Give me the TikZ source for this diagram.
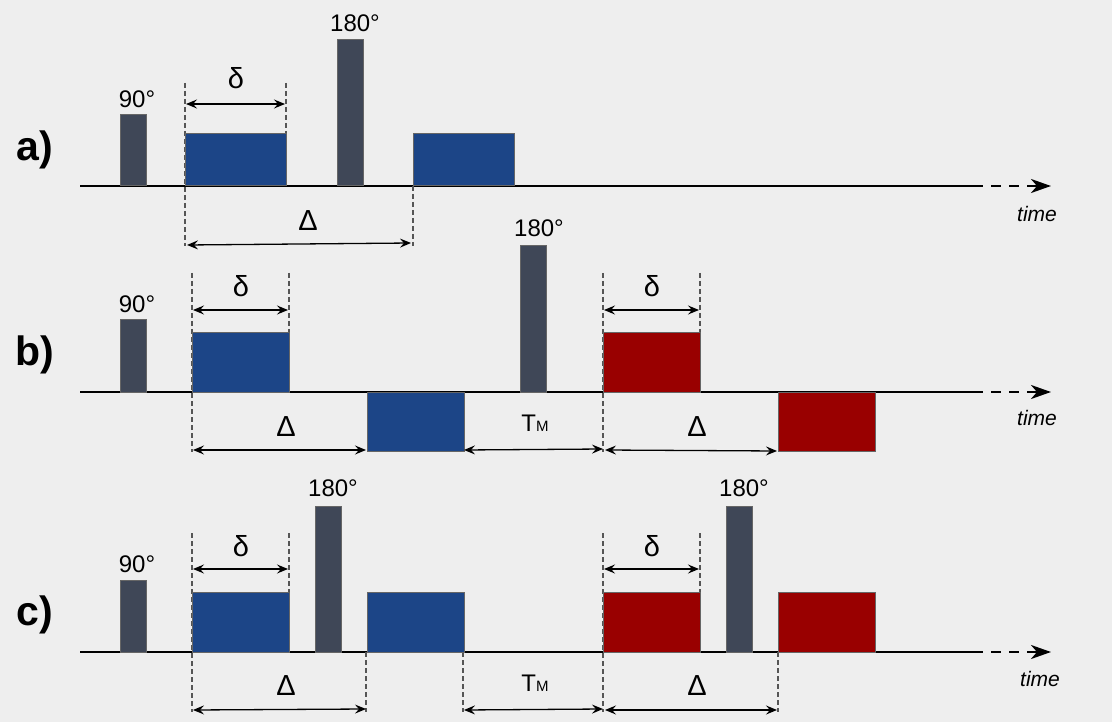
\documentclass[tikz,border=0pt]{standalone}
\usepackage{fontspec}
\setmainfont{Liberation Sans}
\usetikzlibrary{arrows.meta}
\definecolor{bgcol}{HTML}{EEEEEE}
\definecolor{pulsecol}{HTML}{3F4757}
\definecolor{bluecol}{HTML}{1C4587}
\definecolor{redcol}{HTML}{990000}
\definecolor{edgecol}{HTML}{666666}
\definecolor{guidecol}{HTML}{555555}
\tikzset{
  pulsebar/.style={draw=edgecol, fill=pulsecol, line width=1pt, inner sep=0pt, outer sep=0pt, anchor=south west, minimum width=26pt},
  gradbox/.style={draw=edgecol, line width=1pt, inner sep=0pt, outer sep=0pt, minimum width=97pt, minimum height=59pt},
  blubox/.style={gradbox, fill=bluecol},
  redbox/.style={gradbox, fill=redcol},
  guide/.style={draw=guidecol, line width=1.1pt, dash pattern=on 5pt off 3pt},
  dim/.style={draw=black, line width=1.3pt, {Stealth[length=11pt,width=9pt,inset=4pt]}-{Stealth[length=11pt,width=9pt,inset=4pt]}},
  axisline/.style={draw=black, line width=2.6pt},
  axisdash/.style={draw=black, line width=2.6pt, dash pattern=on 10pt off 8pt, -{Stealth[length=20pt,width=14pt,inset=6pt]}},
  anglelbl/.style={inner sep=0pt, font=\fontsize{24}{28}\selectfont},
  greeklbl/.style={inner sep=0pt, font=\fontsize{29}{33}\selectfont},
  timelbl/.style={inner sep=0pt, font=\fontsize{21}{25}\selectfont\itshape},
  rowlbl/.style={inner sep=0pt, font=\fontsize{41}{46}\selectfont\bfseries},
  tmlbl/.style={inner sep=0pt, font=\fontsize{24}{28}\selectfont},
}
\begin{document}
\begin{tikzpicture}[x=1pt,y=-1pt]
\fill[bgcol] (0,0) rectangle (1112,722);
\useasboundingbox (0,0) rectangle (1112,722);

% ================= row a =================
\coordinate (a0) at (80,186);
\coordinate (a1) at (973,186);
\coordinate (a2) at (1051,186);
\draw[axisline] (a0) -- (a1);
\draw[axisdash] (a1) -- (a2);
\node[timelbl] (ta) at (1037,214) {time};
\node[rowlbl] (la) at (35,150) {a)};

\coordinate (ag1t) at (185,83);  \coordinate (ag1b) at (185,246);
\coordinate (ag2t) at (286,83);  \coordinate (ag2b) at (286,134);
\coordinate (ag3t) at (413,186); \coordinate (ag3b) at (413,246);
\draw[guide] (ag1t) -- (ag1b);
\draw[guide] (ag2t) -- (ag2b);
\draw[guide] (ag3t) -- (ag3b);

\node[pulsebar, minimum height=71pt] (ap90) at (120,186) {};
\node[pulsebar, minimum height=146pt] (ap180) at (337,186) {};
\node[blubox, anchor=south west, minimum width=101pt, minimum height=52pt] (ab1) at (185,186) {};
\node[blubox, anchor=south west, minimum width=101pt, minimum height=52pt] (ab2) at (413,186) {};

\node[anglelbl] (a90) at (137,99) {90°};
\node[anglelbl] (a180) at (355,23) {180°};

\coordinate (ad1) at (186,104); \coordinate (ad2) at (285,104);
\draw[dim] (ad1) -- (ad2);
\node[greeklbl] (adl) at (236,78) {δ};
\coordinate (aD1) at (187,245); \coordinate (aD2) at (411,243);
\draw[dim] (aD1) -- (aD2);
\node[greeklbl] (aDl) at (308,221) {Δ};

% ================= row b =================
\coordinate (b0) at (80,392);
\coordinate (b1) at (973,392);
\coordinate (b2) at (1051,392);
\draw[axisline] (b0) -- (b1);
\draw[axisdash] (b1) -- (b2);
\node[timelbl] (tb) at (1037,418) {time};
\node[rowlbl] (lb) at (35,355) {b)};

\coordinate (bg1t) at (192,273); \coordinate (bg1b) at (192,452);
\coordinate (bg2t) at (289,273); \coordinate (bg2b) at (289,333);
\coordinate (bg3t) at (603,273); \coordinate (bg3b) at (603,452);
\coordinate (bg4t) at (700,273); \coordinate (bg4b) at (700,333);
\draw[guide] (bg1t) -- (bg1b);
\draw[guide] (bg2t) -- (bg2b);
\draw[guide] (bg3t) -- (bg3b);
\draw[guide] (bg4t) -- (bg4b);

\node[pulsebar, minimum height=72pt] (bp90) at (120,392) {};
\node[pulsebar, minimum height=146pt] (bp180) at (520,392) {};
\node[blubox, anchor=south west] (bb1) at (192,392) {};
\node[blubox, anchor=north west] (bb2) at (367,392) {};
\node[redbox, anchor=south west] (br1) at (603,392) {};
\node[redbox, anchor=north west] (br2) at (778,392) {};

\node[anglelbl] (b90) at (137,304) {90°};
\node[anglelbl] (b180) at (539,228) {180°};

\coordinate (bd1) at (193,310); \coordinate (bd2) at (288,310);
\draw[dim] (bd1) -- (bd2);
\node[greeklbl] (bdl) at (241,286) {δ};
\coordinate (bd3) at (604,310); \coordinate (bd4) at (699,310);
\draw[dim] (bd3) -- (bd4);
\node[greeklbl] (bdr) at (652,286) {δ};

\coordinate (bD1) at (193,450); \coordinate (bD2) at (366,450);
\draw[dim] (bD1) -- (bD2);
\node[greeklbl] (bDl) at (286,427) {Δ};
\coordinate (bT1) at (464,450); \coordinate (bT2) at (603,449);
\draw[dim] (bT1) -- (bT2);
\node[tmlbl] (bTl) at (535,423) {T{\fontsize{15}{18}\selectfont M}};
\coordinate (bD3) at (605,450); \coordinate (bD4) at (777,451);
\draw[dim] (bD3) -- (bD4);
\node[greeklbl] (bDr) at (697,427) {Δ};

% ================= row c =================
\coordinate (c0) at (80,652);
\coordinate (c1) at (973,652);
\coordinate (c2) at (1051,652);
\draw[axisline] (c0) -- (c1);
\draw[axisdash] (c1) -- (c2);
\node[timelbl] (tc) at (1040,679) {time};
\node[rowlbl] (lc) at (35,615) {c)};

\coordinate (cg1t) at (192,533); \coordinate (cg1b) at (192,712);
\coordinate (cg2t) at (289,533); \coordinate (cg2b) at (289,592);
\coordinate (cg3t) at (366,652); \coordinate (cg3b) at (366,712);
\coordinate (cg4t) at (463,652); \coordinate (cg4b) at (463,712);
\coordinate (cg5t) at (603,533); \coordinate (cg5b) at (603,712);
\coordinate (cg6t) at (700,533); \coordinate (cg6b) at (700,592);
\coordinate (cg7t) at (778,652); \coordinate (cg7b) at (778,712);
\draw[guide] (cg1t) -- (cg1b);
\draw[guide] (cg2t) -- (cg2b);
\draw[guide] (cg3t) -- (cg3b);
\draw[guide] (cg4t) -- (cg4b);
\draw[guide] (cg5t) -- (cg5b);
\draw[guide] (cg6t) -- (cg6b);
\draw[guide] (cg7t) -- (cg7b);

\node[pulsebar, minimum height=72pt] (cp90) at (120,652) {};
\node[pulsebar, minimum height=146pt] (cp180a) at (315,652) {};
\node[pulsebar, minimum height=146pt] (cp180b) at (726,652) {};
\node[blubox, anchor=south west, minimum height=60pt] (cb1) at (192,652) {};
\node[blubox, anchor=south west, minimum height=60pt] (cb2) at (367,652) {};
\node[redbox, anchor=south west, minimum height=60pt] (cr1) at (603,652) {};
\node[redbox, anchor=south west, minimum height=60pt] (cr2) at (778,652) {};

\node[anglelbl] (c90) at (137,564) {90°};
\node[anglelbl] (c180a) at (333,488) {180°};
\node[anglelbl] (c180b) at (744,488) {180°};

\coordinate (cd1) at (193,569); \coordinate (cd2) at (288,569);
\draw[dim] (cd1) -- (cd2);
\node[greeklbl] (cdl) at (241,546) {δ};
\coordinate (cd3) at (604,569); \coordinate (cd4) at (699,569);
\draw[dim] (cd3) -- (cd4);
\node[greeklbl] (cdr) at (652,546) {δ};

\coordinate (cD1) at (193,710); \coordinate (cD2) at (366,709);
\draw[dim] (cD1) -- (cD2);
\node[greeklbl] (cDl) at (286,686) {Δ};
\coordinate (cT1) at (464,710); \coordinate (cT2) at (603,709);
\draw[dim] (cT1) -- (cT2);
\node[tmlbl] (cTl) at (535,683) {T{\fontsize{15}{18}\selectfont M}};
\coordinate (cD3) at (605,710); \coordinate (cD4) at (777,710);
\draw[dim] (cD3) -- (cD4);
\node[greeklbl] (cDr) at (697,686) {Δ};
\end{tikzpicture}
\end{document}
